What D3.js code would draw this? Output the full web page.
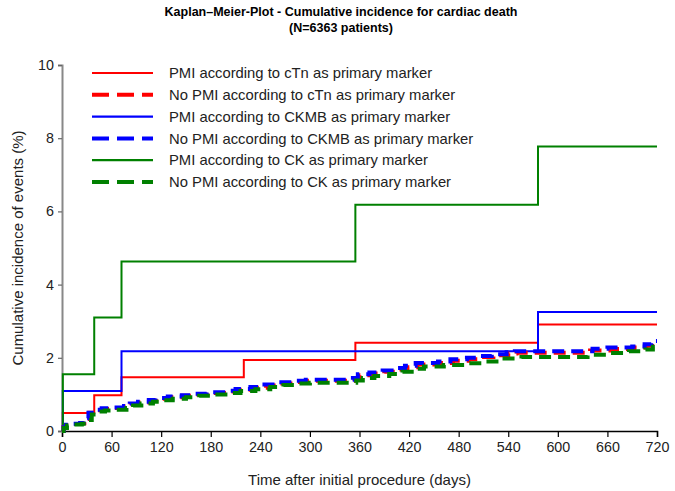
<!DOCTYPE html>
<html>
<head>
<meta charset="utf-8">
<script src="https://cdn.jsdelivr.net/npm/d3@7"></script>
<style>
  body { margin: 0; background: #fff; }
  svg { display: block; font-family: "Liberation Sans", Arial, sans-serif; }
</style>
</head>
<body>
<svg id="chart" width="675" height="491"></svg>
<script>
// step points: days and cumulative incidence (%)
const pmiCtnDays = [0, 1, 39, 72, 220, 355, 576, 720];
const pmiCtnVals = [0, 0.49, 0.98, 1.47, 1.94, 2.41, 2.91, 2.91];

const pmiCkmbDays = [0, 1, 72, 576, 720];
const pmiCkmbVals = [0, 1.09, 2.18, 3.25, 3.25];

const pmiCkDays = [0, 1, 39, 72, 355, 576, 720];
const pmiCkVals = [0, 1.55, 3.1, 4.63, 6.18, 7.77, 7.77];

const noPmiCtnDays = [0, 2, 5, 8, 22, 27, 33, 40, 50, 62, 76, 83, 93, 106, 114, 130, 146, 162, 176, 200, 212, 230, 247, 264, 282, 297, 354, 360, 374, 390, 406, 418, 430, 458, 473, 492, 508, 522, 540, 550, 639, 665, 692, 707, 714, 720];
const noPmiCtnVals = [0, 0.1, 0.16, 0.19, 0.21, 0.33, 0.5, 0.57, 0.6, 0.63, 0.67, 0.73, 0.78, 0.83, 0.88, 0.92, 0.96, 1.0, 1.04, 1.08, 1.13, 1.18, 1.24, 1.3, 1.34, 1.37, 1.42, 1.52, 1.57, 1.62, 1.68, 1.74, 1.82, 1.86, 1.92, 1.96, 2.02, 2.07, 2.12, 2.14, 2.2, 2.24, 2.28, 2.33, 2.4, 2.4];

const noPmiCkmbDays = [0, 2, 5, 8, 22, 26, 32, 40, 48, 62, 75, 82, 92, 105, 113, 128, 145, 160, 175, 198, 210, 228, 245, 262, 280, 295, 352, 358, 372, 388, 404, 415, 428, 455, 470, 490, 506, 520, 538, 548, 642, 660, 690, 705, 713, 720];
const noPmiCkmbVals = [0, 0.1, 0.17, 0.2, 0.22, 0.35, 0.5, 0.58, 0.62, 0.64, 0.68, 0.75, 0.8, 0.85, 0.9, 0.94, 0.98, 1.02, 1.06, 1.1, 1.15, 1.2, 1.27, 1.33, 1.37, 1.4, 1.45, 1.55, 1.6, 1.65, 1.72, 1.78, 1.86, 1.9, 1.96, 2.0, 2.05, 2.1, 2.15, 2.18, 2.25, 2.28, 2.31, 2.37, 2.46, 2.46];

const noPmiCkDays = [0, 2, 6, 10, 24, 30, 36, 42, 52, 64, 78, 86, 96, 110, 118, 134, 150, 166, 180, 204, 216, 234, 252, 268, 286, 300, 356, 364, 378, 396, 412, 426, 438, 462, 490, 510, 532, 556, 636, 660, 686, 706, 715, 720];
const noPmiCkVals = [0, 0.08, 0.15, 0.18, 0.2, 0.3, 0.45, 0.53, 0.56, 0.58, 0.63, 0.7, 0.75, 0.8, 0.84, 0.88, 0.92, 0.96, 1.0, 1.04, 1.09, 1.14, 1.2, 1.26, 1.3, 1.32, 1.38, 1.45, 1.5, 1.56, 1.62, 1.7, 1.76, 1.8, 1.85, 1.9, 1.98, 2.02, 2.08, 2.13, 2.18, 2.23, 2.3, 2.3];

const xTicks = [0, 60, 120, 180, 240, 300, 360, 420, 480, 540, 600, 660, 720];
const yTicks = [0, 2, 4, 6, 8, 10];

const series = [
  { name: "PMI according to cTn as primary marker", days: pmiCtnDays, vals: pmiCtnVals, color: "#ff0000", dashed: false },
  { name: "No PMI according to cTn as primary marker", days: noPmiCtnDays, vals: noPmiCtnVals, color: "#ff0000", dashed: true },
  { name: "PMI according to CKMB as primary marker", days: pmiCkmbDays, vals: pmiCkmbVals, color: "#0000ff", dashed: false },
  { name: "No PMI according to CKMB as primary marker", days: noPmiCkmbDays, vals: noPmiCkmbVals, color: "#0000ff", dashed: true },
  { name: "PMI according to CK as primary marker", days: pmiCkDays, vals: pmiCkVals, color: "#008000", dashed: false },
  { name: "No PMI according to CK as primary marker", days: noPmiCkDays, vals: noPmiCkVals, color: "#008000", dashed: true }
];

const margin = { left: 62, right: 18, top: 65, bottom: 60 };
const width = 675, height = 491;
const svg = d3.select("#chart");

const x = d3.scaleLinear().domain([0, 720]).range([margin.left, width - margin.right]);
const y = d3.scaleLinear().domain([0, 10]).range([height - margin.bottom, margin.top]);

// title
svg.append("text")
  .attr("x", 341).attr("y", 16)
  .attr("text-anchor", "middle")
  .style("font-family", "'Liberation Sans Narrow', 'Arial Narrow', sans-serif")
  .style("font-weight", "bold").style("font-size", "12.5px")
  .text("Kaplan\u2013Meier-Plot - Cumulative incidence for cardiac death");
svg.append("text")
  .attr("x", 341).attr("y", 32)
  .attr("text-anchor", "middle")
  .style("font-family", "'Liberation Sans Narrow', 'Arial Narrow', sans-serif")
  .style("font-weight", "bold").style("font-size", "12.5px")
  .text("(N=6363 patients)");

// axes
const xAxis = svg.append("g")
  .attr("transform", `translate(0,${y(0)})`)
  .call(d3.axisBottom(x).tickValues(xTicks).tickSize(6).tickPadding(5));
xAxis.select(".domain").attr("stroke", "#000").attr("stroke-width", 1.5);
xAxis.selectAll(".tick line").attr("stroke", "#000").attr("stroke-width", 1.2);
xAxis.selectAll("text").style("font-size", "14.3px").attr("fill", "#222");

const yAxis = svg.append("g")
  .attr("transform", `translate(${x(0)},0)`)
  .call(d3.axisLeft(y).tickValues(yTicks).tickSize(4).tickPadding(4));
yAxis.select(".domain").attr("stroke", "#888").attr("stroke-width", 2);
yAxis.selectAll(".tick line").attr("stroke", "#666").attr("stroke-width", 1.2);
yAxis.selectAll("text").style("font-size", "14.3px").attr("fill", "#222");

svg.append("text")
  .attr("x", (x(0) + x(720)) / 2).attr("y", 485)
  .attr("text-anchor", "middle")
  .style("font-size", "15px").attr("fill", "#222")
  .text("Time after initial procedure (days)");

svg.append("text")
  .attr("transform", `translate(23,${(y(0) + y(10)) / 2}) rotate(-90)`)
  .attr("text-anchor", "middle")
  .style("font-size", "15px").attr("fill", "#222")
  .text("Cumulative incidence of events (%)");

// curves
const line = d3.line()
  .x((d) => x(d[0]))
  .y((d) => y(d[1]))
  .curve(d3.curveStepAfter);

const drawOrder = [0, 2, 4, 1, 3, 5];
drawOrder.forEach((i) => {
  const s = series[i];
  svg.append("path")
    .datum(s.days.map((d, k) => [d, s.vals[k]]))
    .attr("fill", "none")
    .attr("stroke", s.color)
    .attr("stroke-width", s.dashed ? 4 : 2)
    .attr("stroke-dasharray", s.dashed ? "12,7" : null)
    .attr("d", line);
});

// legend
const legend = svg.append("g").attr("transform", "translate(92,73)");
const rows = legend.selectAll("g")
  .data(series)
  .join("g")
  .attr("transform", (d, i) => `translate(0,${i * 21.8})`);
rows.append("line")
  .attr("x1", 0).attr("x2", 61)
  .attr("stroke", (d) => d.color)
  .attr("stroke-width", (d) => d.dashed ? 4 : 2.2)
  .attr("stroke-dasharray", (d) => d.dashed ? "17,8" : null);
rows.append("text")
  .attr("x", 77).attr("dy", "0.35em")
  .style("font-size", "14.8px").attr("fill", "#222")
  .text((d) => d.name);
</script>
</body>
</html>
